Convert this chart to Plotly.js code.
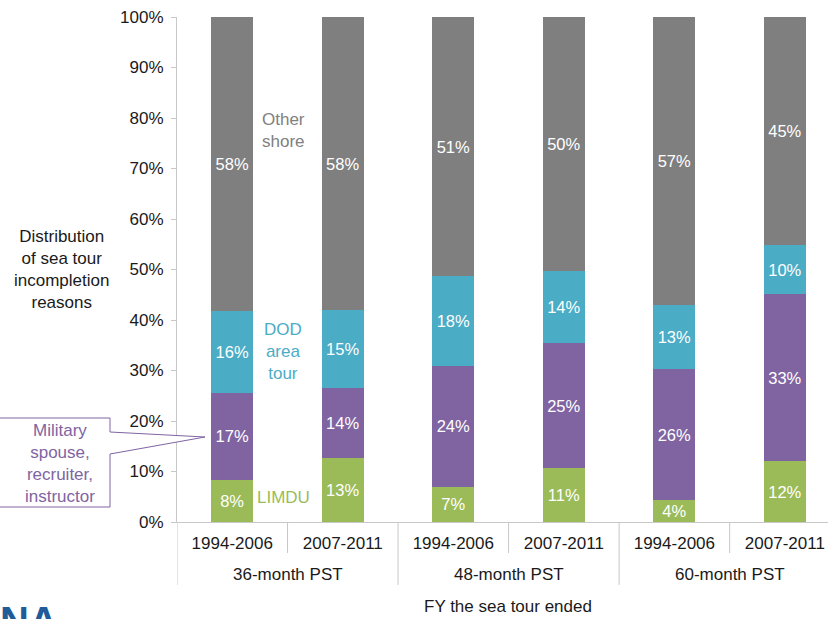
<!DOCTYPE html>
<html>
<head>
<meta charset="utf-8">
<script src="https://cdn.plot.ly/plotly-3.0.1.min.js"></script>
<style>
html,body{margin:0;padding:0;background:#fff;}
#chart{width:828px;height:619px;}
</style>
</head>
<body>
<div id="chart"></div>
<script>
// ---- data ----
const groupNames = ["36-month PST","48-month PST","60-month PST"];
const groups = ["36-month PST","36-month PST","48-month PST","48-month PST","60-month PST","60-month PST"];
const periods = ["1994-2006","2007-2011","1994-2006","2007-2011","1994-2006","2007-2011"];
const limdu = [8.4, 12.6, 7.0, 10.6, 4.3, 12.0];
const militarySpouse = [17.1, 14.0, 23.9, 24.8, 26.0, 33.2];
const dodAreaTour = [16.3, 15.3, 17.8, 14.3, 12.7, 9.6];
const otherShore = [58.2, 58.1, 51.3, 50.3, 57.0, 45.2];
const yTicks = [0,10,20,30,40,50,60,70,80,90,100];

// category keys (unique per bar), labelled by period
const keys = groups.map((g, i) => g + " | " + periods[i]);

// ---- layout helpers (pixel -> paper) ----
const L = 177, T = 17, W = 651, H = 505;
const px = x => (x - L) / W;
const py = y => (T + H - y) / H;

const FONT = "Liberation Sans, Arial, sans-serif";
const FS = 17;
const seriesDefs = [
  {name:"LIMDU", y:limdu, color:"#9BBB59"},
  {name:"Military spouse, recruiter, instructor", y:militarySpouse, color:"#8064A2"},
  {name:"DOD area tour", y:dodAreaTour, color:"#4BACC6"},
  {name:"Other shore", y:otherShore, color:"#7F7F7F"}
];

const traces = seriesDefs.map(s => ({
  type:"bar",
  name:s.name,
  x:keys,
  y:s.y,
  width:0.38,
  marker:{color:s.color, line:{width:0}},
  texttemplate:"%{y:.0f}%",
  textposition:"inside",
  insidetextanchor:"middle",
  textangle:0,
  textfont:{color:"#ffffff", size:16.5, family:FONT},
  hoverinfo:"skip"
}));

const calloutPath = "M " + px(-5) + " " + py(418) +
  " L " + px(110) + " " + py(418) +
  " L " + px(110) + " " + py(432) +
  " L " + px(205) + " " + py(437) +
  " L " + px(110) + " " + py(454) +
  " L " + px(110) + " " + py(507) +
  " L " + px(-5) + " " + py(507) + " Z";

const sepColor = "#c8c8c8";
const shapes = [
  {type:"path", xref:"paper", yref:"paper", path:calloutPath,
   line:{color:"#8064A2", width:1}, fillcolor:"#ffffff", layer:"above"}
];
// separators between the bars of a group (short) and between groups (long)
keys.forEach((k, i) => {
  const isGroupEdge = (i === 0) || groups[i] !== groups[i-1];
  shapes.push({type:"line", xref:"x", yref:"paper", x0:i - 0.5, x1:i - 0.5,
    y0:0, y1:py(isGroupEdge ? 585 : 553), line:{color:sepColor, width:1}});
});

const annotations = [
  {xref:"paper", yref:"paper", x:px(61), y:py(269), text:"Distribution<br>of sea tour<br>incompletion<br>reasons",
   showarrow:false, font:{size:FS, color:"#1a1a1a"}, align:"center", xanchor:"center", yanchor:"middle"},
  {xref:"paper", yref:"paper", x:px(508), y:py(606), text:"FY the sea tour ended",
   showarrow:false, font:{size:FS, color:"#1a1a1a"}, xanchor:"center", yanchor:"middle"},
  {xref:"paper", yref:"paper", x:px(283), y:py(130), text:"Other<br>shore",
   showarrow:false, font:{size:FS, color:"#808080"}, xanchor:"center", yanchor:"middle"},
  {xref:"paper", yref:"paper", x:px(283), y:py(352), text:"DOD<br>area<br>tour",
   showarrow:false, font:{size:FS, color:"#4BACC6"}, xanchor:"center", yanchor:"middle"},
  {xref:"paper", yref:"paper", x:px(283), y:py(497), text:"LIMDU",
   showarrow:false, font:{size:FS, color:"#9BBB59"}, xanchor:"center", yanchor:"middle"},
  {xref:"paper", yref:"paper", x:px(60), y:py(463), text:"Military<br>spouse,<br>recruiter,<br>instructor",
   showarrow:false, font:{size:FS, color:"#8064A2"}, xanchor:"center", yanchor:"middle"},
  {xref:"paper", yref:"paper", x:px(-2), y:py(597), text:"<b>NA</b>",
   showarrow:false, font:{size:40, color:"#1F5C99"}, xanchor:"left", yanchor:"top"}
];
// group labels centred under each pair of bars
groupNames.forEach(g => {
  const idx = groups.map((v, i) => v === g ? i : -1).filter(i => i >= 0);
  const mid = (idx[0] + idx[idx.length - 1]) / 2;
  annotations.push({xref:"x", yref:"paper", x:mid, y:py(574), text:g, showarrow:false,
    font:{size:FS, color:"#1a1a1a"}, xanchor:"center", yanchor:"middle"});
});

const layout = {
  width:828, height:619,
  margin:{l:L, r:0, t:T, b:619 - T - H},
  paper_bgcolor:"#ffffff",
  plot_bgcolor:"#ffffff",
  barmode:"stack",
  showlegend:false,
  font:{family:FONT, size:FS, color:"#1a1a1a"},
  uniformtext:{mode:"show", minsize:16},
  xaxis:{
    type:"category",
    categoryorder:"array", categoryarray:keys,
    tickmode:"array", tickvals:keys, ticktext:periods,
    range:[-0.5, 5.39],
    showline:true, linecolor:sepColor, linewidth:1,
    ticks:"", ticklabelstandoff:6,
    tickfont:{size:FS, color:"#1a1a1a", family:FONT},
    showgrid:false, zeroline:false
  },
  yaxis:{
    range:[0,100],
    tickmode:"array",
    tickvals:yTicks,
    ticktext:yTicks.map(v => v + "%"),
    ticks:"outside", ticklen:5, tickcolor:sepColor,
    ticklabelstandoff:4,
    showline:true, linecolor:sepColor, linewidth:1,
    showgrid:false, zeroline:false,
    tickfont:{size:FS, color:"#1a1a1a", family:FONT}
  },
  shapes:shapes,
  annotations:annotations
};

Plotly.newPlot("chart", traces, layout, {displayModeBar:false, staticPlot:true});
</script>
</body>
</html>
